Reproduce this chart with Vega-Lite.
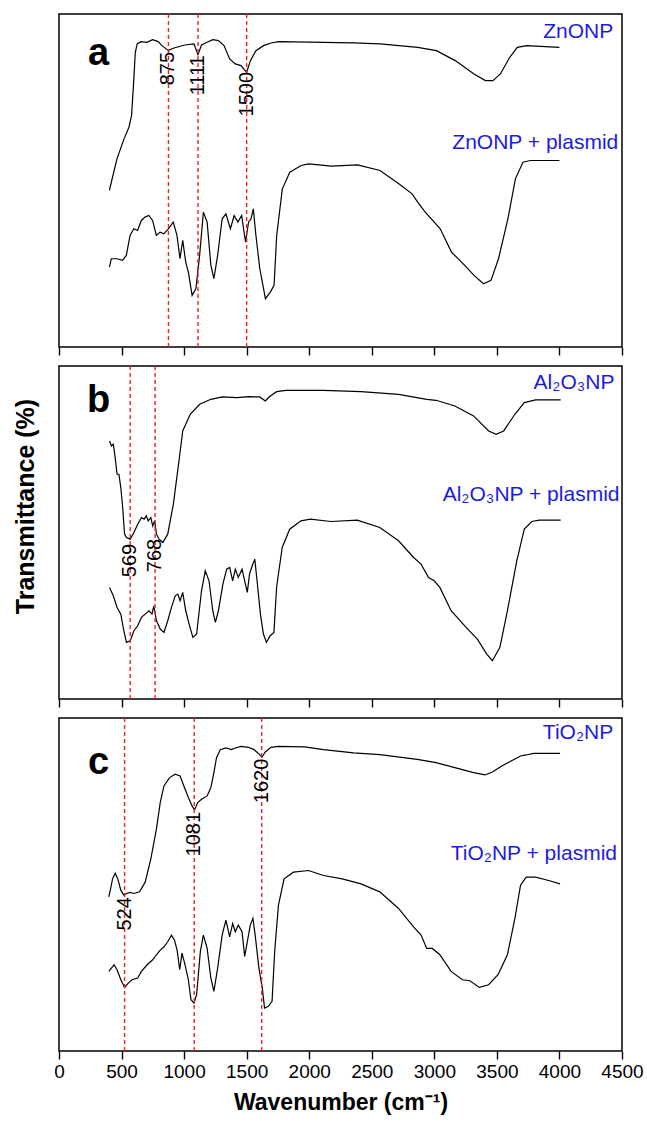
{
  "$schema": "https://vega.github.io/schema/vega-lite/v6.json",
  "background": "white",
  "padding": {"left": 12, "top": 12, "right": 5, "bottom": 5},
  "config": {"view": {"stroke": "black", "strokeWidth": 1.5}, "font": "Liberation Sans"},
  "bounds": "flush",
  "spacing": 19,
  "datasets": {
    "spec": [
      {"p":"a","s":"u","w":403,"t":47},{"p":"a","s":"u","w":412,"t":48.5},{"p":"a","s":"u","w":463,"t":56.5},{"p":"a","s":"u","w":520,"t":62.5},{"p":"a","s":"u","w":559,"t":66},{"p":"a","s":"u","w":580,"t":69.5},{"p":"a","s":"u","w":595,"t":78.5},{"p":"a","s":"u","w":610,"t":88.5},{"p":"a","s":"u","w":625,"t":91},{"p":"a","s":"u","w":655,"t":91.7},{"p":"a","s":"u","w":703,"t":91.5},{"p":"a","s":"u","w":748,"t":92.3},{"p":"a","s":"u","w":793,"t":91.7},{"p":"a","s":"u","w":823,"t":90.5},{"p":"a","s":"u","w":875,"t":89},{"p":"a","s":"u","w":913,"t":89.7},{"p":"a","s":"u","w":1004,"t":90.7},{"p":"a","s":"u","w":1079,"t":91},{"p":"a","s":"u","w":1111,"t":87.8},{"p":"a","s":"u","w":1139,"t":90.7},{"p":"a","s":"u","w":1184,"t":91.5},{"p":"a","s":"u","w":1229,"t":92.3},{"p":"a","s":"u","w":1274,"t":92},{"p":"a","s":"u","w":1319,"t":90.5},{"p":"a","s":"u","w":1364,"t":86.5},{"p":"a","s":"u","w":1409,"t":85},{"p":"a","s":"u","w":1454,"t":84.5},{"p":"a","s":"u","w":1500,"t":82.5},{"p":"a","s":"u","w":1530,"t":86},{"p":"a","s":"u","w":1574,"t":89},{"p":"a","s":"u","w":1635,"t":90.5},{"p":"a","s":"u","w":1695,"t":91.3},{"p":"a","s":"u","w":1755,"t":91.7},{"p":"a","s":"u","w":2116,"t":91.5},{"p":"a","s":"u","w":2356,"t":91.3},{"p":"a","s":"u","w":2566,"t":91},{"p":"a","s":"u","w":2867,"t":90},{"p":"a","s":"u","w":3017,"t":89},{"p":"a","s":"u","w":3167,"t":86},{"p":"a","s":"u","w":3317,"t":82},{"p":"a","s":"u","w":3408,"t":80},{"p":"a","s":"u","w":3468,"t":80},{"p":"a","s":"u","w":3528,"t":82},{"p":"a","s":"u","w":3603,"t":87},{"p":"a","s":"u","w":3663,"t":90},{"p":"a","s":"u","w":3738,"t":90.5},{"p":"a","s":"u","w":4000,"t":90},
      {"p":"a","s":"l","w":403,"t":24},{"p":"a","s":"l","w":418,"t":26.5},{"p":"a","s":"l","w":463,"t":26.5},{"p":"a","s":"l","w":508,"t":26},{"p":"a","s":"l","w":538,"t":27.5},{"p":"a","s":"l","w":568,"t":33.5},{"p":"a","s":"l","w":598,"t":35.5},{"p":"a","s":"l","w":628,"t":35},{"p":"a","s":"l","w":658,"t":38},{"p":"a","s":"l","w":688,"t":39},{"p":"a","s":"l","w":718,"t":39.5},{"p":"a","s":"l","w":748,"t":38},{"p":"a","s":"l","w":778,"t":33.5},{"p":"a","s":"l","w":808,"t":34.5},{"p":"a","s":"l","w":838,"t":34},{"p":"a","s":"l","w":874,"t":35.5},{"p":"a","s":"l","w":913,"t":37.5},{"p":"a","s":"l","w":943,"t":33.5},{"p":"a","s":"l","w":967,"t":26.5},{"p":"a","s":"l","w":989,"t":32},{"p":"a","s":"l","w":1013,"t":25.5},{"p":"a","s":"l","w":1034,"t":22.5},{"p":"a","s":"l","w":1064,"t":15.5},{"p":"a","s":"l","w":1094,"t":17.5},{"p":"a","s":"l","w":1124,"t":27.5},{"p":"a","s":"l","w":1154,"t":40.5},{"p":"a","s":"l","w":1184,"t":37.5},{"p":"a","s":"l","w":1214,"t":24.5},{"p":"a","s":"l","w":1238,"t":20.5},{"p":"a","s":"l","w":1268,"t":27.5},{"p":"a","s":"l","w":1304,"t":38.5},{"p":"a","s":"l","w":1334,"t":40},{"p":"a","s":"l","w":1370,"t":35.5},{"p":"a","s":"l","w":1400,"t":39.5},{"p":"a","s":"l","w":1430,"t":37.5},{"p":"a","s":"l","w":1460,"t":39.5},{"p":"a","s":"l","w":1491,"t":31.5},{"p":"a","s":"l","w":1515,"t":37.5},{"p":"a","s":"l","w":1535,"t":38.5},{"p":"a","s":"l","w":1553,"t":41.5},{"p":"a","s":"l","w":1574,"t":33.5},{"p":"a","s":"l","w":1605,"t":23.5},{"p":"a","s":"l","w":1650,"t":14.5},{"p":"a","s":"l","w":1689,"t":16.5},{"p":"a","s":"l","w":1719,"t":18.5},{"p":"a","s":"l","w":1740,"t":33.5},{"p":"a","s":"l","w":1785,"t":47.5},{"p":"a","s":"l","w":1845,"t":52.5},{"p":"a","s":"l","w":1935,"t":54.5},{"p":"a","s":"l","w":1995,"t":55},{"p":"a","s":"l","w":2176,"t":54.3},{"p":"a","s":"l","w":2386,"t":54.7},{"p":"a","s":"l","w":2566,"t":53},{"p":"a","s":"l","w":2716,"t":49},{"p":"a","s":"l","w":2822,"t":46},{"p":"a","s":"l","w":2867,"t":43.5},{"p":"a","s":"l","w":2927,"t":40.5},{"p":"a","s":"l","w":2987,"t":38},{"p":"a","s":"l","w":3047,"t":35.5},{"p":"a","s":"l","w":3137,"t":28.5},{"p":"a","s":"l","w":3243,"t":24.5},{"p":"a","s":"l","w":3317,"t":21.5},{"p":"a","s":"l","w":3393,"t":19},{"p":"a","s":"l","w":3453,"t":20},{"p":"a","s":"l","w":3513,"t":26.5},{"p":"a","s":"l","w":3588,"t":38.5},{"p":"a","s":"l","w":3648,"t":50.5},{"p":"a","s":"l","w":3708,"t":55.5},{"p":"a","s":"l","w":3768,"t":56},{"p":"a","s":"l","w":4000,"t":56},
      {"p":"b","s":"u","w":404,"t":77.5},{"p":"b","s":"u","w":419,"t":76},{"p":"b","s":"u","w":434,"t":76.5},{"p":"b","s":"u","w":449,"t":72.5},{"p":"b","s":"u","w":464,"t":67.5},{"p":"b","s":"u","w":479,"t":67.5},{"p":"b","s":"u","w":494,"t":63.5},{"p":"b","s":"u","w":509,"t":57.5},{"p":"b","s":"u","w":524,"t":49.5},{"p":"b","s":"u","w":539,"t":48.5},{"p":"b","s":"u","w":569,"t":48},{"p":"b","s":"u","w":599,"t":50},{"p":"b","s":"u","w":629,"t":52.5},{"p":"b","s":"u","w":659,"t":54.5},{"p":"b","s":"u","w":680,"t":54},{"p":"b","s":"u","w":698,"t":55},{"p":"b","s":"u","w":713,"t":53.5},{"p":"b","s":"u","w":734,"t":54.5},{"p":"b","s":"u","w":749,"t":52},{"p":"b","s":"u","w":764,"t":53.5},{"p":"b","s":"u","w":779,"t":49.5},{"p":"b","s":"u","w":800,"t":48},{"p":"b","s":"u","w":830,"t":47},{"p":"b","s":"u","w":869,"t":49.5},{"p":"b","s":"u","w":914,"t":58.5},{"p":"b","s":"u","w":959,"t":71.5},{"p":"b","s":"u","w":989,"t":80.5},{"p":"b","s":"u","w":1049,"t":85.5},{"p":"b","s":"u","w":1124,"t":88.5},{"p":"b","s":"u","w":1214,"t":90},{"p":"b","s":"u","w":1304,"t":90.7},{"p":"b","s":"u","w":1424,"t":90.5},{"p":"b","s":"u","w":1514,"t":90.8},{"p":"b","s":"u","w":1604,"t":90.7},{"p":"b","s":"u","w":1649,"t":89.5},{"p":"b","s":"u","w":1679,"t":90.7},{"p":"b","s":"u","w":1739,"t":92.3},{"p":"b","s":"u","w":1814,"t":92.7},{"p":"b","s":"u","w":2114,"t":92.7},{"p":"b","s":"u","w":2414,"t":92.3},{"p":"b","s":"u","w":2714,"t":91.5},{"p":"b","s":"u","w":2939,"t":90},{"p":"b","s":"u","w":3014,"t":89.7},{"p":"b","s":"u","w":3164,"t":88},{"p":"b","s":"u","w":3314,"t":85},{"p":"b","s":"u","w":3434,"t":80.5},{"p":"b","s":"u","w":3494,"t":79.5},{"p":"b","s":"u","w":3554,"t":80.5},{"p":"b","s":"u","w":3644,"t":85.5},{"p":"b","s":"u","w":3719,"t":89},{"p":"b","s":"u","w":3809,"t":89.8},{"p":"b","s":"u","w":4010,"t":89.8},
      {"p":"b","s":"l","w":404,"t":33.5},{"p":"b","s":"l","w":434,"t":31},{"p":"b","s":"l","w":464,"t":27.5},{"p":"b","s":"l","w":494,"t":25.5},{"p":"b","s":"l","w":518,"t":20.5},{"p":"b","s":"l","w":539,"t":17},{"p":"b","s":"l","w":569,"t":17.5},{"p":"b","s":"l","w":599,"t":20.5},{"p":"b","s":"l","w":629,"t":22},{"p":"b","s":"l","w":659,"t":24.5},{"p":"b","s":"l","w":689,"t":25.5},{"p":"b","s":"l","w":719,"t":26.5},{"p":"b","s":"l","w":743,"t":25.5},{"p":"b","s":"l","w":758,"t":28},{"p":"b","s":"l","w":779,"t":23.5},{"p":"b","s":"l","w":809,"t":21},{"p":"b","s":"l","w":839,"t":20},{"p":"b","s":"l","w":869,"t":23.5},{"p":"b","s":"l","w":899,"t":27.5},{"p":"b","s":"l","w":929,"t":31},{"p":"b","s":"l","w":950,"t":31.5},{"p":"b","s":"l","w":968,"t":29.5},{"p":"b","s":"l","w":989,"t":32},{"p":"b","s":"l","w":1013,"t":26.5},{"p":"b","s":"l","w":1040,"t":22.5},{"p":"b","s":"l","w":1070,"t":18.5},{"p":"b","s":"l","w":1100,"t":19.5},{"p":"b","s":"l","w":1139,"t":32.5},{"p":"b","s":"l","w":1169,"t":38.5},{"p":"b","s":"l","w":1199,"t":35.5},{"p":"b","s":"l","w":1229,"t":26.5},{"p":"b","s":"l","w":1250,"t":23},{"p":"b","s":"l","w":1274,"t":26.5},{"p":"b","s":"l","w":1310,"t":34.5},{"p":"b","s":"l","w":1340,"t":39},{"p":"b","s":"l","w":1364,"t":39.5},{"p":"b","s":"l","w":1388,"t":35.5},{"p":"b","s":"l","w":1409,"t":39},{"p":"b","s":"l","w":1433,"t":36.5},{"p":"b","s":"l","w":1463,"t":39},{"p":"b","s":"l","w":1484,"t":35.5},{"p":"b","s":"l","w":1505,"t":32},{"p":"b","s":"l","w":1523,"t":37.5},{"p":"b","s":"l","w":1544,"t":40},{"p":"b","s":"l","w":1565,"t":42},{"p":"b","s":"l","w":1583,"t":35.5},{"p":"b","s":"l","w":1610,"t":25.5},{"p":"b","s":"l","w":1634,"t":19.5},{"p":"b","s":"l","w":1658,"t":17},{"p":"b","s":"l","w":1688,"t":19},{"p":"b","s":"l","w":1718,"t":20},{"p":"b","s":"l","w":1739,"t":33.5},{"p":"b","s":"l","w":1784,"t":45.5},{"p":"b","s":"l","w":1844,"t":51},{"p":"b","s":"l","w":1934,"t":53.5},{"p":"b","s":"l","w":2009,"t":54},{"p":"b","s":"l","w":2174,"t":53.3},{"p":"b","s":"l","w":2384,"t":53.7},{"p":"b","s":"l","w":2564,"t":51.5},{"p":"b","s":"l","w":2714,"t":47.5},{"p":"b","s":"l","w":2834,"t":42.5},{"p":"b","s":"l","w":2894,"t":40.5},{"p":"b","s":"l","w":2954,"t":36.5},{"p":"b","s":"l","w":2999,"t":35.5},{"p":"b","s":"l","w":3044,"t":33.5},{"p":"b","s":"l","w":3134,"t":26.5},{"p":"b","s":"l","w":3254,"t":21.5},{"p":"b","s":"l","w":3344,"t":18},{"p":"b","s":"l","w":3419,"t":13.5},{"p":"b","s":"l","w":3464,"t":11.5},{"p":"b","s":"l","w":3524,"t":15.5},{"p":"b","s":"l","w":3584,"t":26.5},{"p":"b","s":"l","w":3659,"t":41.5},{"p":"b","s":"l","w":3719,"t":51},{"p":"b","s":"l","w":3779,"t":53.3},{"p":"b","s":"l","w":3839,"t":53.7},{"p":"b","s":"l","w":4010,"t":53.7},
      {"p":"c","s":"u","w":398,"t":46.3},{"p":"c","s":"u","w":413,"t":48.8},{"p":"c","s":"u","w":428,"t":51.7},{"p":"c","s":"u","w":449,"t":53.4},{"p":"c","s":"u","w":470,"t":51.7},{"p":"c","s":"u","w":494,"t":48.3},{"p":"c","s":"u","w":518,"t":46.8},{"p":"c","s":"u","w":539,"t":47.3},{"p":"c","s":"u","w":569,"t":47.6},{"p":"c","s":"u","w":599,"t":47.3},{"p":"c","s":"u","w":644,"t":47.8},{"p":"c","s":"u","w":689,"t":50.7},{"p":"c","s":"u","w":734,"t":57.7},{"p":"c","s":"u","w":779,"t":66.7},{"p":"c","s":"u","w":809,"t":74.6},{"p":"c","s":"u","w":839,"t":79.6},{"p":"c","s":"u","w":884,"t":82.1},{"p":"c","s":"u","w":929,"t":83.1},{"p":"c","s":"u","w":968,"t":82.6},{"p":"c","s":"u","w":998,"t":79.6},{"p":"c","s":"u","w":1034,"t":76.1},{"p":"c","s":"u","w":1064,"t":73.6},{"p":"c","s":"u","w":1083,"t":72.4},{"p":"c","s":"u","w":1109,"t":74.6},{"p":"c","s":"u","w":1139,"t":75.6},{"p":"c","s":"u","w":1184,"t":76.6},{"p":"c","s":"u","w":1214,"t":79.1},{"p":"c","s":"u","w":1238,"t":83.6},{"p":"c","s":"u","w":1259,"t":88.1},{"p":"c","s":"u","w":1289,"t":90.5},{"p":"c","s":"u","w":1334,"t":91},{"p":"c","s":"u","w":1379,"t":90.5},{"p":"c","s":"u","w":1409,"t":91},{"p":"c","s":"u","w":1454,"t":91.5},{"p":"c","s":"u","w":1514,"t":91.2},{"p":"c","s":"u","w":1559,"t":90.5},{"p":"c","s":"u","w":1604,"t":89},{"p":"c","s":"u","w":1622,"t":88.2},{"p":"c","s":"u","w":1649,"t":89.8},{"p":"c","s":"u","w":1694,"t":91.2},{"p":"c","s":"u","w":1754,"t":91.5},{"p":"c","s":"u","w":1964,"t":91.3},{"p":"c","s":"u","w":2114,"t":90.5},{"p":"c","s":"u","w":2354,"t":89.5},{"p":"c","s":"u","w":2564,"t":89},{"p":"c","s":"u","w":2864,"t":87.6},{"p":"c","s":"u","w":3014,"t":86.6},{"p":"c","s":"u","w":3164,"t":85.1},{"p":"c","s":"u","w":3314,"t":83.6},{"p":"c","s":"u","w":3404,"t":82.9},{"p":"c","s":"u","w":3464,"t":83.8},{"p":"c","s":"u","w":3539,"t":85.6},{"p":"c","s":"u","w":3614,"t":87.1},{"p":"c","s":"u","w":3689,"t":88.6},{"p":"c","s":"u","w":3734,"t":88.9},{"p":"c","s":"u","w":3794,"t":89.4},{"p":"c","s":"u","w":4005,"t":89.4},
      {"p":"c","s":"l","w":398,"t":23.9},{"p":"c","s":"l","w":419,"t":24.9},{"p":"c","s":"l","w":440,"t":25.9},{"p":"c","s":"l","w":464,"t":24.4},{"p":"c","s":"l","w":494,"t":21.4},{"p":"c","s":"l","w":524,"t":19.1},{"p":"c","s":"l","w":554,"t":20.4},{"p":"c","s":"l","w":584,"t":21.4},{"p":"c","s":"l","w":629,"t":21.9},{"p":"c","s":"l","w":659,"t":23.9},{"p":"c","s":"l","w":704,"t":25.9},{"p":"c","s":"l","w":749,"t":27.4},{"p":"c","s":"l","w":779,"t":28.9},{"p":"c","s":"l","w":809,"t":30.3},{"p":"c","s":"l","w":839,"t":31.3},{"p":"c","s":"l","w":869,"t":32.8},{"p":"c","s":"l","w":899,"t":34.8},{"p":"c","s":"l","w":923,"t":33.3},{"p":"c","s":"l","w":944,"t":30.3},{"p":"c","s":"l","w":965,"t":24.4},{"p":"c","s":"l","w":983,"t":29.4},{"p":"c","s":"l","w":1004,"t":26.4},{"p":"c","s":"l","w":1034,"t":21.4},{"p":"c","s":"l","w":1055,"t":15.4},{"p":"c","s":"l","w":1079,"t":14.4},{"p":"c","s":"l","w":1100,"t":16.9},{"p":"c","s":"l","w":1130,"t":29.9},{"p":"c","s":"l","w":1154,"t":34.8},{"p":"c","s":"l","w":1184,"t":30.8},{"p":"c","s":"l","w":1214,"t":21.9},{"p":"c","s":"l","w":1238,"t":17.9},{"p":"c","s":"l","w":1268,"t":24.9},{"p":"c","s":"l","w":1304,"t":34.8},{"p":"c","s":"l","w":1334,"t":39.3},{"p":"c","s":"l","w":1364,"t":34.3},{"p":"c","s":"l","w":1388,"t":38.3},{"p":"c","s":"l","w":1409,"t":35.8},{"p":"c","s":"l","w":1433,"t":37.8},{"p":"c","s":"l","w":1463,"t":35.8},{"p":"c","s":"l","w":1484,"t":28.4},{"p":"c","s":"l","w":1505,"t":32.8},{"p":"c","s":"l","w":1529,"t":37.8},{"p":"c","s":"l","w":1550,"t":39.8},{"p":"c","s":"l","w":1568,"t":34.8},{"p":"c","s":"l","w":1598,"t":24.9},{"p":"c","s":"l","w":1625,"t":18.9},{"p":"c","s":"l","w":1643,"t":12.9},{"p":"c","s":"l","w":1673,"t":13.4},{"p":"c","s":"l","w":1703,"t":14.9},{"p":"c","s":"l","w":1724,"t":29.9},{"p":"c","s":"l","w":1754,"t":43.8},{"p":"c","s":"l","w":1799,"t":51.7},{"p":"c","s":"l","w":1874,"t":53.7},{"p":"c","s":"l","w":1994,"t":54.2},{"p":"c","s":"l","w":2114,"t":52.7},{"p":"c","s":"l","w":2264,"t":51.7},{"p":"c","s":"l","w":2414,"t":50.2},{"p":"c","s":"l","w":2564,"t":47.8},{"p":"c","s":"l","w":2714,"t":42.8},{"p":"c","s":"l","w":2834,"t":37.3},{"p":"c","s":"l","w":2894,"t":34.8},{"p":"c","s":"l","w":2939,"t":30.8},{"p":"c","s":"l","w":2984,"t":30.8},{"p":"c","s":"l","w":3044,"t":28.9},{"p":"c","s":"l","w":3134,"t":23.9},{"p":"c","s":"l","w":3224,"t":21.4},{"p":"c","s":"l","w":3284,"t":21.1},{"p":"c","s":"l","w":3359,"t":19.1},{"p":"c","s":"l","w":3434,"t":19.9},{"p":"c","s":"l","w":3509,"t":22.9},{"p":"c","s":"l","w":3584,"t":28.9},{"p":"c","s":"l","w":3644,"t":39.8},{"p":"c","s":"l","w":3689,"t":49.8},{"p":"c","s":"l","w":3734,"t":52.2},{"p":"c","s":"l","w":3809,"t":52.2},{"p":"c","s":"l","w":3914,"t":51.2},{"p":"c","s":"l","w":4005,"t":50.2}
    ],
    "peaks": [
      {"p":"a","w":875,"lab":"875","ly":88.6},{"p":"a","w":1111,"lab":"1111","ly":87.6},{"p":"a","w":1500,"lab":"1500","ly":82.6},
      {"p":"b","w":569,"lab":"569","ly":46.6},{"p":"b","w":768,"lab":"768","ly":48.1},
      {"p":"c","w":524,"lab":"524","ly":46.2},{"p":"c","w":1081,"lab":"1081","ly":71.8},{"p":"c","w":1620,"lab":"1620","ly":87.8}
    ],
    "names": [
      {"p":"a","w":4430,"ly":92.8,"txt":"ZnONP"},{"p":"a","w":4470,"ly":59.6,"txt":"ZnONP + plasmid"},
      {"p":"b","w":4440,"ly":93.2,"txt":"Al₂O₃NP"},{"p":"b","w":4480,"ly":59.5,"txt":"Al₂O₃NP + plasmid"},
      {"p":"c","w":4430,"ly":93.8,"txt":"TiO₂NP"},{"p":"c","w":4460,"ly":57.3,"txt":"TiO₂NP + plasmid"}
    ],
    "letters": [
      {"p":"a","w":316,"ly":84.7,"txt":"a"},{"p":"b","w":316,"ly":86.2,"txt":"b"},{"p":"c","w":316,"ly":83.2,"txt":"c"}
    ]
  },
  "vconcat": [
    {
      "width": 563, "height": 333,
      "layer": [
        {"data": {"name": "spec"}, "transform": [{"filter": "datum.p === 'a'"}],
         "mark": {"type": "line", "color": "black", "strokeWidth": 1.2},
         "encoding": {
           "x": {"field": "w", "type": "quantitative", "scale": {"domain": [0, 4500], "nice": false},
                 "axis": {"values": [0,250,500,750,1000,1250,1500,1750,2000,2250,2500,2750,3000,3250,3500,3750,4000,4250,4500], "labels": false, "domain": false, "grid": false, "title": null, "tickColor": "black", "tickWidth": 1.4, "tickSize": {"condition": {"test": "datum.value % 500 === 0", "value": 8}, "value": 4}}},
           "y": {"field": "t", "type": "quantitative", "scale": {"domain": [0, 100], "nice": false},
                 "axis": {"title": "Transmittance (%)", "labels": false, "ticks": false, "domain": false, "grid": false, "titleFontSize": 25, "titleFontWeight": "bold", "titleColor": "black", "titlePadding": 21, "titleY": 140, "titleOpacity": 0}},
           "detail": {"field": "s"}
         }},
        {"data": {"name": "peaks"}, "transform": [{"filter": "datum.p === 'a'"}],
         "mark": {"type": "rule", "color": "#f01e1e", "strokeDash": [4, 3], "strokeWidth": 1.4},
         "encoding": {"x": {"field": "w", "type": "quantitative"}}},
        {"data": {"name": "peaks"}, "transform": [{"filter": "datum.p === 'a'"}],
         "mark": {"type": "text", "angle": 270, "align": "right", "baseline": "middle", "fontSize": 20, "color": "black"},
         "encoding": {"x": {"field": "w", "type": "quantitative"}, "y": {"field": "ly", "type": "quantitative"}, "text": {"field": "lab"}}},
        {"data": {"name": "names"}, "transform": [{"filter": "datum.p === 'a'"}],
         "mark": {"type": "text", "align": "right", "baseline": "alphabetic", "fontSize": 21, "color": "#1c1ce0"},
         "encoding": {"x": {"field": "w", "type": "quantitative"}, "y": {"field": "ly", "type": "quantitative"}, "text": {"field": "txt"}}},
        {"data": {"name": "letters"}, "transform": [{"filter": "datum.p === 'a'"}],
         "mark": {"type": "text", "align": "center", "baseline": "alphabetic", "fontSize": 38, "fontWeight": "bold", "color": "black"},
         "encoding": {"x": {"field": "w", "type": "quantitative"}, "y": {"field": "ly", "type": "quantitative"}, "text": {"field": "txt"}}}
      ]
    },
    {
      "width": 563, "height": 333,
      "layer": [
        {"data": {"name": "spec"}, "transform": [{"filter": "datum.p === 'b'"}],
         "mark": {"type": "line", "color": "black", "strokeWidth": 1.2},
         "encoding": {
           "x": {"field": "w", "type": "quantitative", "scale": {"domain": [0, 4500], "nice": false},
                 "axis": {"values": [0,250,500,750,1000,1250,1500,1750,2000,2250,2500,2750,3000,3250,3500,3750,4000,4250,4500], "labels": false, "domain": false, "grid": false, "title": null, "tickColor": "black", "tickWidth": 1.4, "tickSize": {"condition": {"test": "datum.value % 500 === 0", "value": 8}, "value": 4}}},
           "y": {"field": "t", "type": "quantitative", "scale": {"domain": [0, 100], "nice": false},
                 "axis": {"title": "Transmittance (%)", "labels": false, "ticks": false, "domain": false, "grid": false, "titleFontSize": 25, "titleFontWeight": "bold", "titleColor": "black", "titlePadding": 21, "titleY": 140}},
           "detail": {"field": "s"}
         }},
        {"data": {"name": "peaks"}, "transform": [{"filter": "datum.p === 'b'"}],
         "mark": {"type": "rule", "color": "#f01e1e", "strokeDash": [4, 3], "strokeWidth": 1.4},
         "encoding": {"x": {"field": "w", "type": "quantitative"}}},
        {"data": {"name": "peaks"}, "transform": [{"filter": "datum.p === 'b'"}],
         "mark": {"type": "text", "angle": 270, "align": "right", "baseline": "middle", "fontSize": 20, "color": "black"},
         "encoding": {"x": {"field": "w", "type": "quantitative"}, "y": {"field": "ly", "type": "quantitative"}, "text": {"field": "lab"}}},
        {"data": {"name": "names"}, "transform": [{"filter": "datum.p === 'b'"}],
         "mark": {"type": "text", "align": "right", "baseline": "alphabetic", "fontSize": 21, "color": "#1c1ce0"},
         "encoding": {"x": {"field": "w", "type": "quantitative"}, "y": {"field": "ly", "type": "quantitative"}, "text": {"field": "txt"}}},
        {"data": {"name": "letters"}, "transform": [{"filter": "datum.p === 'b'"}],
         "mark": {"type": "text", "align": "center", "baseline": "alphabetic", "fontSize": 38, "fontWeight": "bold", "color": "black"},
         "encoding": {"x": {"field": "w", "type": "quantitative"}, "y": {"field": "ly", "type": "quantitative"}, "text": {"field": "txt"}}}
      ]
    },
    {
      "width": 563, "height": 333,
      "layer": [
        {"data": {"name": "spec"}, "transform": [{"filter": "datum.p === 'c'"}],
         "mark": {"type": "line", "color": "black", "strokeWidth": 1.2},
         "encoding": {
           "x": {"field": "w", "type": "quantitative", "scale": {"domain": [0, 4500], "nice": false},
                 "axis": {"values": [0,250,500,750,1000,1250,1500,1750,2000,2250,2500,2750,3000,3250,3500,3750,4000,4250,4500], "format": "d", "labelExpr": "datum.value % 500 === 0 ? datum.label : ''", "labelOverlap": false, "labelFlush": false, "labelBound": false, "labelFontSize": 19, "labelColor": "black", "labelPadding": 3, "domain": false, "grid": false, "title": "Wavenumber (cm⁻¹)", "titleFontSize": 23, "titleFontWeight": "bold", "titleColor": "black", "titlePadding": 10, "tickColor": "black", "tickWidth": 1.4, "tickSize": {"condition": {"test": "datum.value % 500 === 0", "value": 8}, "value": 4}}},
           "y": {"field": "t", "type": "quantitative", "scale": {"domain": [0, 100], "nice": false},
                 "axis": {"title": "Transmittance (%)", "labels": false, "ticks": false, "domain": false, "grid": false, "titleFontSize": 25, "titleFontWeight": "bold", "titleColor": "black", "titlePadding": 21, "titleY": 140, "titleOpacity": 0}},
           "detail": {"field": "s"}
         }},
        {"data": {"name": "peaks"}, "transform": [{"filter": "datum.p === 'c'"}],
         "mark": {"type": "rule", "color": "#f01e1e", "strokeDash": [4, 3], "strokeWidth": 1.4},
         "encoding": {"x": {"field": "w", "type": "quantitative"}}},
        {"data": {"name": "peaks"}, "transform": [{"filter": "datum.p === 'c'"}],
         "mark": {"type": "text", "angle": 270, "align": "right", "baseline": "middle", "fontSize": 20, "color": "black"},
         "encoding": {"x": {"field": "w", "type": "quantitative"}, "y": {"field": "ly", "type": "quantitative"}, "text": {"field": "lab"}}},
        {"data": {"name": "names"}, "transform": [{"filter": "datum.p === 'c'"}],
         "mark": {"type": "text", "align": "right", "baseline": "alphabetic", "fontSize": 21, "color": "#1c1ce0"},
         "encoding": {"x": {"field": "w", "type": "quantitative"}, "y": {"field": "ly", "type": "quantitative"}, "text": {"field": "txt"}}},
        {"data": {"name": "letters"}, "transform": [{"filter": "datum.p === 'c'"}],
         "mark": {"type": "text", "align": "center", "baseline": "alphabetic", "fontSize": 38, "fontWeight": "bold", "color": "black"},
         "encoding": {"x": {"field": "w", "type": "quantitative"}, "y": {"field": "ly", "type": "quantitative"}, "text": {"field": "txt"}}}
      ]
    }
  ]
}
